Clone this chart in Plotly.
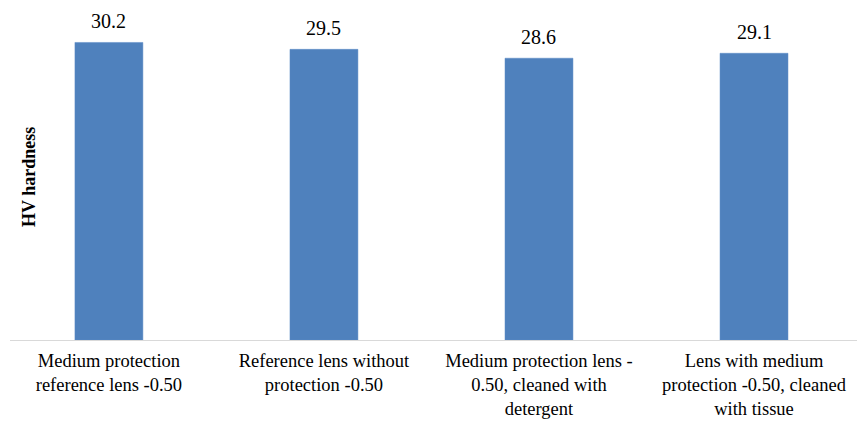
import plotly.graph_objects as go

categories = [
    "Medium protection<br>reference lens -0.50",
    "Reference lens without<br>protection -0.50",
    "Medium protection lens -<br>0.50, cleaned with<br>detergent",
    "Lens with medium<br>protection -0.50, cleaned<br>with tissue",
]
hardness = [30.2, 29.5, 28.6, 29.1]
value_labels = ["30.2", "29.5", "28.6", "29.1"]
y_title = "HV hardness"

FONT = "Liberation Serif, Times New Roman, serif"

fig = go.Figure()
fig.add_trace(go.Bar(
    x=list(range(len(categories))),
    y=hardness,
    cliponaxis=False,
    width=0.316,
    marker=dict(color="#4F81BD", line=dict(color="#5A8AC6", width=0.5)),
    hoverinfo="skip",
))

annotations = [
    dict(
        x=i, y=v, xref="x", yref="y",
        text=lbl, showarrow=False,
        xanchor="center", yanchor="bottom", yshift=8,
        font=dict(family=FONT, size=20, color="#000000"),
    )
    for i, (v, lbl) in enumerate(zip(hardness, value_labels))
]
annotations.append(dict(
    text="<b>" + y_title + "</b>",
    xref="paper", yref="paper",
    x=19 / 847, y=(340 - 177) / 335,
    xanchor="center", yanchor="middle",
    textangle=-90, showarrow=False,
    font=dict(family=FONT, size=18, color="#000000"),
))

fig.update_layout(
    width=857, height=421,
    margin=dict(l=10, r=0, t=5, b=81, autoexpand=False),
    paper_bgcolor="white", plot_bgcolor="white",
    showlegend=False,
    font=dict(family=FONT, size=20, color="#000000"),
    xaxis=dict(
        range=[-0.46, 3.479],
        tickmode="array",
        tickvals=list(range(len(categories))),
        ticktext=categories,
        automargin=False,
        showline=True, linecolor="#D9D9D9", linewidth=1,
        ticks="", showgrid=False, zeroline=False,
        ticklabelstandoff=4,
        tickfont=dict(family=FONT, size=18.5, color="#000000"),
    ),
    yaxis=dict(
        range=[0, 34],
        automargin=False,
        showticklabels=False, showgrid=False, zeroline=False,
        showline=False, ticks="",
    ),
    annotations=annotations,
)

fig.write_html(
    "out.html",
    config={"displayModeBar": False},
    post_script="document.body.style.margin='0';document.body.style.overflow='hidden';",
)
